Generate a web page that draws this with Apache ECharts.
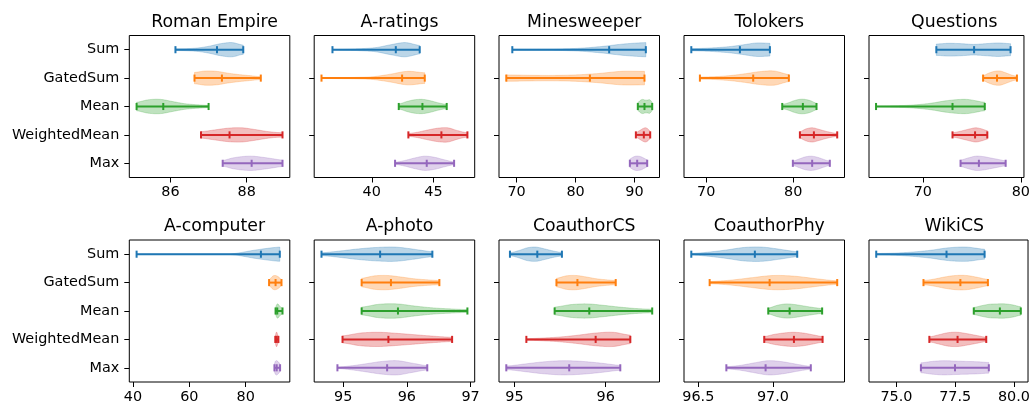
<!DOCTYPE html>
<html>
<head>
<meta charset="utf-8">
<script src="https://cdn.jsdelivr.net/npm/echarts@6/dist/echarts.min.js"></script>
<style>
html,body{margin:0;padding:0;background:#fff;}
#chart{width:1033px;height:404px;}
</style>
</head>
<body>
<div id="chart"></div>
<script>
// ---------------- data ----------------
const methods = ['Sum', 'GatedSum', 'Mean', 'WeightedMean', 'Max'];
const titles = ['Roman Empire', 'A-ratings', 'Minesweeper', 'Tolokers', 'Questions',
                'A-computer', 'A-photo', 'CoauthorCS', 'CoauthorPhy', 'WikiCS'];
const colors = ['#1f77b4', '#ff7f0e', '#2ca02c', '#d62728', '#9467bd'];

// [min, centre marker, max] per method
const romanEmpireStats = [[86.13, 87.22, 87.91], [86.63, 87.35, 88.37], [85.11, 85.81, 87.0], [86.8, 87.55, 88.94], [87.37, 88.13, 88.94]];
const aRatingsStats    = [[36.81, 41.95, 43.89], [35.92, 42.46, 44.30], [42.19, 44.11, 46.08], [42.97, 45.65, 47.76], [41.89, 44.46, 46.68]];
const minesweeperStats = [[69.27, 85.7, 91.92], [68.25, 82.43, 91.69], [90.56, 91.69, 93.0], [90.23, 91.58, 92.66], [89.21, 90.45, 92.15]];
const tolokersStats    = [[68.28, 73.87, 77.32], [69.27, 75.4, 79.5], [78.74, 81.11, 82.68], [80.77, 82.38, 85.06], [79.96, 82.18, 84.21]];
const questionsStats   = [[71.38, 75.23, 78.95], [76.15, 77.57, 79.6], [65.23, 73.03, 76.32], [73.03, 75.33, 76.58], [73.85, 75.72, 78.45]];
const aComputerStats   = [[41.3, 85.4, 92.1], [88.3, 90.6, 92.7], [90.6, 91.2, 93.06], [90.5, 91.0, 91.6], [90.2, 91.0, 92.2]];
const aPhotoStats      = [[94.66, 95.58, 96.4], [95.29, 95.75, 96.51], [95.29, 95.86, 96.95], [94.99, 95.71, 96.71], [94.91, 95.69, 96.32]];
const coauthorCSStats  = [[94.95, 95.25, 95.52], [95.46, 95.69, 96.11], [95.44, 95.82, 96.51], [95.13, 95.89, 96.27], [94.91, 95.6, 96.16]];
const coauthorPhyStats = [[96.453, 96.879, 97.163], [96.576, 96.978, 97.431], [96.969, 97.112, 97.33], [96.942, 97.141, 97.333], [96.688, 96.951, 97.254]];
const wikiCSStats      = [[74.14, 77.13, 78.75], [76.15, 77.72, 78.89], [78.29, 79.4, 80.29], [76.4, 77.6, 78.82], [76.04, 77.49, 78.93]];

// relative violin widths read at 7 evenly spaced points from min to max
const romanEmpireShape = [[0.12,0.15,0.25,0.5,0.85,1.0,0.65],[0.8,1.0,0.95,0.7,0.5,0.35,0.2],[0.6,0.95,1.0,0.7,0.4,0.25,0.15],[0.45,0.7,0.95,1.0,0.75,0.45,0.3],[0.4,0.75,0.95,1.0,0.85,0.65,0.45]];
const aRatingsShape    = [[0.05,0.08,0.15,0.3,0.7,1.0,0.6],[0.05,0.07,0.1,0.2,0.55,0.95,0.75],[0.35,0.7,0.95,1.0,0.8,0.5,0.3],[0.2,0.4,0.7,0.95,1.0,0.6,0.3],[0.15,0.4,0.75,1.0,0.85,0.5,0.2]];
const minesweeperShape = [[0.08,0.08,0.1,0.2,0.45,0.8,1.0],[0.45,0.4,0.38,0.45,0.65,0.95,0.95],[0.55,0.85,1.0,0.9,0.9,0.95,0.6],[0.3,0.5,0.7,0.9,1.0,0.85,0.5],[0.6,0.85,1.0,1.0,0.9,0.7,0.5]];
const tolokersShape    = [[0.15,0.2,0.3,0.45,0.7,0.95,0.9],[0.15,0.2,0.35,0.6,0.9,1.0,0.5],[0.3,0.5,0.8,1.0,1.0,0.8,0.45],[0.45,0.85,1.0,0.8,0.55,0.35,0.2],[0.3,0.6,0.9,1.0,0.85,0.55,0.3]];
const questionsShape   = [[0.8,0.9,0.85,0.75,0.85,0.95,0.85],[0.35,0.7,0.95,1.0,0.75,0.45,0.25],[0.05,0.1,0.2,0.45,0.85,1.0,0.6],[0.3,0.45,0.65,0.85,1.0,0.85,0.6],[0.45,0.75,1.0,0.95,0.75,0.55,0.35]];
const aComputerShape   = [[0.02,0.02,0.02,0.03,0.06,0.6,1.0],[0.4,0.7,0.95,1.0,0.9,0.7,0.4],[0.5,0.9,1.0,0.8,0.6,0.5,0.4],[0.4,0.8,1.0,1.0,0.8,0.6,0.4],[0.6,0.9,1.0,0.95,0.85,0.7,0.5]];
const aPhotoShape      = [[0.2,0.45,0.75,0.95,1.0,0.7,0.35],[0.6,0.95,1.0,0.8,0.55,0.4,0.3],[0.55,0.95,1.0,0.7,0.45,0.3,0.2],[0.5,0.9,1.0,0.85,0.65,0.45,0.3],[0.1,0.3,0.6,0.9,1.0,0.65,0.3]];
const coauthorCSShape  = [[0.2,0.5,0.9,1.0,0.75,0.45,0.25],[0.6,0.95,1.0,0.8,0.55,0.4,0.3],[0.55,0.9,1.0,0.8,0.55,0.35,0.25],[0.1,0.2,0.35,0.6,0.9,1.0,0.6],[0.25,0.55,0.85,1.0,0.9,0.65,0.35]];
const coauthorPhyShape = [[0.1,0.3,0.6,0.95,1.0,0.7,0.35],[0.15,0.35,0.7,1.0,0.9,0.55,0.25],[0.4,0.8,1.0,0.9,0.7,0.5,0.35],[0.4,0.7,0.9,1.0,0.9,0.65,0.4],[0.15,0.35,0.7,1.0,0.85,0.5,0.2]];
const wikiCSShape      = [[0.1,0.15,0.3,0.55,0.9,1.0,0.7],[0.3,0.5,0.8,1.0,1.0,0.75,0.45],[0.5,0.75,0.95,1.0,1.0,0.85,0.6],[0.35,0.65,0.95,1.0,0.8,0.55,0.3],[0.7,0.9,1.0,0.95,0.9,0.85,0.75]];

// x tick labels
const romanEmpireTicks = [86, 88];
const aRatingsTicks    = [40, 45];
const minesweeperTicks = [70, 80, 90];
const tolokersTicks    = [70, 80];
const questionsTicks   = [70, 80];
const aComputerTicks   = [40, 60, 80];
const aPhotoTicks      = [95, 96, 97];
const coauthorCSTicks  = [95, 96];
const coauthorPhyTicks = [96.5, 97.0];
const wikiCSTicks      = [75.0, 77.5, 80.0];
const tickDecimals     = [0, 0, 0, 0, 0, 0, 0, 0, 1, 1];

const allStats  = [romanEmpireStats, aRatingsStats, minesweeperStats, tolokersStats, questionsStats,
                   aComputerStats, aPhotoStats, coauthorCSStats, coauthorPhyStats, wikiCSStats];
const allShapes = [romanEmpireShape, aRatingsShape, minesweeperShape, tolokersShape, questionsShape,
                   aComputerShape, aPhotoShape, coauthorCSShape, coauthorPhyShape, wikiCSShape];
const allTicks  = [romanEmpireTicks, aRatingsTicks, minesweeperTicks, tolokersTicks, questionsTicks,
                   aComputerTicks, aPhotoTicks, coauthorCSTicks, coauthorPhyTicks, wikiCSTicks];

// ---------------- layout ----------------
const FONT = 'DejaVu Sans';
const lefts = [129.3, 314.2, 499, 684, 869];
const gridW = 160.5;
const rowTop = [35.5, 240];
const rowH = [142, 142];
const titleTop = [9.5, 213.5];

function catmull(p0, p1, p2, p3, t) {
  const t2 = t * t, t3 = t2 * t;
  return 0.5 * ((2 * p1) + (-p0 + p2) * t + (2 * p0 - 5 * p1 + 4 * p2 - p3) * t2 + (-p0 + 3 * p1 - 3 * p2 + p3) * t3);
}

function renderItem(params, api) {
  const ci = api.value(0);
  const lo = api.value(1), mid = api.value(2), hi = api.value(3);
  const prof = [];
  for (let k = 0; k < 7; k++) prof.push(api.value(4 + k));
  const band = api.size([0, 1])[1];
  const hw = band * 0.25;
  const cap = band * 0.125;
  const yc = api.coord([lo, ci])[1];
  const n = prof.length;
  const S = 12;
  const top = [], bot = [];
  for (let i = 0; i < n - 1; i++) {
    const p0 = prof[Math.max(i - 1, 0)], p1 = prof[i], p2 = prof[i + 1], p3 = prof[Math.min(i + 2, n - 1)];
    for (let s = 0; s < S; s++) {
      const t = s / S;
      let w = catmull(p0, p1, p2, p3, t);
      w = Math.max(0.015, Math.min(1.05, w));
      const v = lo + (i + t) / (n - 1) * (hi - lo);
      const x = api.coord([v, ci])[0];
      top.push([x, yc - w * hw]);
      bot.push([x, yc + w * hw]);
    }
  }
  const xe = api.coord([hi, ci])[0];
  top.push([xe, yc - prof[n - 1] * hw]);
  bot.push([xe, yc + prof[n - 1] * hw]);
  const pts = top.concat(bot.reverse());
  const color = colors[ci];
  const xl = api.coord([lo, ci])[0], xm = api.coord([mid, ci])[0];
  const ls = { stroke: color, lineWidth: 2 };
  return {
    type: 'group',
    children: [
      { type: 'polygon', shape: { points: pts }, style: { fill: color, opacity: 0.3, stroke: color, lineWidth: 0.8 } },
      { type: 'line', shape: { x1: xl, y1: yc, x2: xe, y2: yc }, style: ls },
      { type: 'line', shape: { x1: xl, y1: yc - cap, x2: xl, y2: yc + cap }, style: ls },
      { type: 'line', shape: { x1: xe, y1: yc - cap, x2: xe, y2: yc + cap }, style: ls },
      { type: 'line', shape: { x1: xm, y1: yc - cap, x2: xm, y2: yc + cap }, style: ls }
    ]
  };
}

const grid = [], xAxis = [], yAxis = [], series = [], title = [];
for (let p = 0; p < 10; p++) {
  const row = Math.floor(p / 5), col = p % 5;
  grid.push({ left: lefts[col], top: rowTop[row], width: gridW, height: rowH[row],
              show: true, borderColor: '#000', borderWidth: 1, backgroundColor: 'transparent', containLabel: false });
  const stats = allStats[p];
  let dmin = Infinity, dmax = -Infinity;
  stats.forEach(s => { dmin = Math.min(dmin, s[0]); dmax = Math.max(dmax, s[2]); });
  const pad = (dmax - dmin) * 0.05;
  const dec = tickDecimals[p];
  xAxis.push({
    type: 'value', gridIndex: p, min: dmin - pad, max: dmax + pad,
    axisLine: { show: false },
    splitLine: { show: false },
    axisTick: { show: true, length: 5, lineStyle: { color: '#000', width: 1 }, customValues: allTicks[p] },
    axisLabel: { show: true, customValues: allTicks[p], fontFamily: FONT, fontSize: 14.4, color: '#000', margin: 8,
                 formatter: v => Number(v).toFixed(dec) }
  });
  const first = col === 0;
  yAxis.push({
    type: 'category', gridIndex: p, data: methods, inverse: true, boundaryGap: true,
    axisLine: { show: false },
    splitLine: { show: false },
    axisTick: { show: true, length: 5, alignWithLabel: true, lineStyle: { color: '#000', width: 1 },
                interval: first ? 0 : function (idx) { return idx === 1 || idx === 3; } },
    axisLabel: { show: first, fontFamily: FONT, fontSize: 14.4, color: '#000', margin: 10, interval: 0 }
  });
  const data = stats.map((s, i) => [i, s[0], s[1], s[2]].concat(allShapes[p][i]));
  series.push({
    type: 'custom', xAxisIndex: p, yAxisIndex: p, renderItem: renderItem,
    encode: { x: [1, 3], y: 0 }, data: data, silent: true, clip: false
  });
  title.push({
    text: titles[p], left: lefts[col] + gridW / 2, top: titleTop[row], textAlign: 'center',
    textStyle: { fontFamily: FONT, fontSize: 17.3, fontWeight: 'normal', color: '#000' }
  });
}

const chart = echarts.init(document.getElementById('chart'), null, { renderer: 'canvas' });
chart.setOption({
  animation: false,
  backgroundColor: '#fff',
  title: title,
  grid: grid,
  xAxis: xAxis,
  yAxis: yAxis,
  series: series
});
</script>
</body>
</html>
